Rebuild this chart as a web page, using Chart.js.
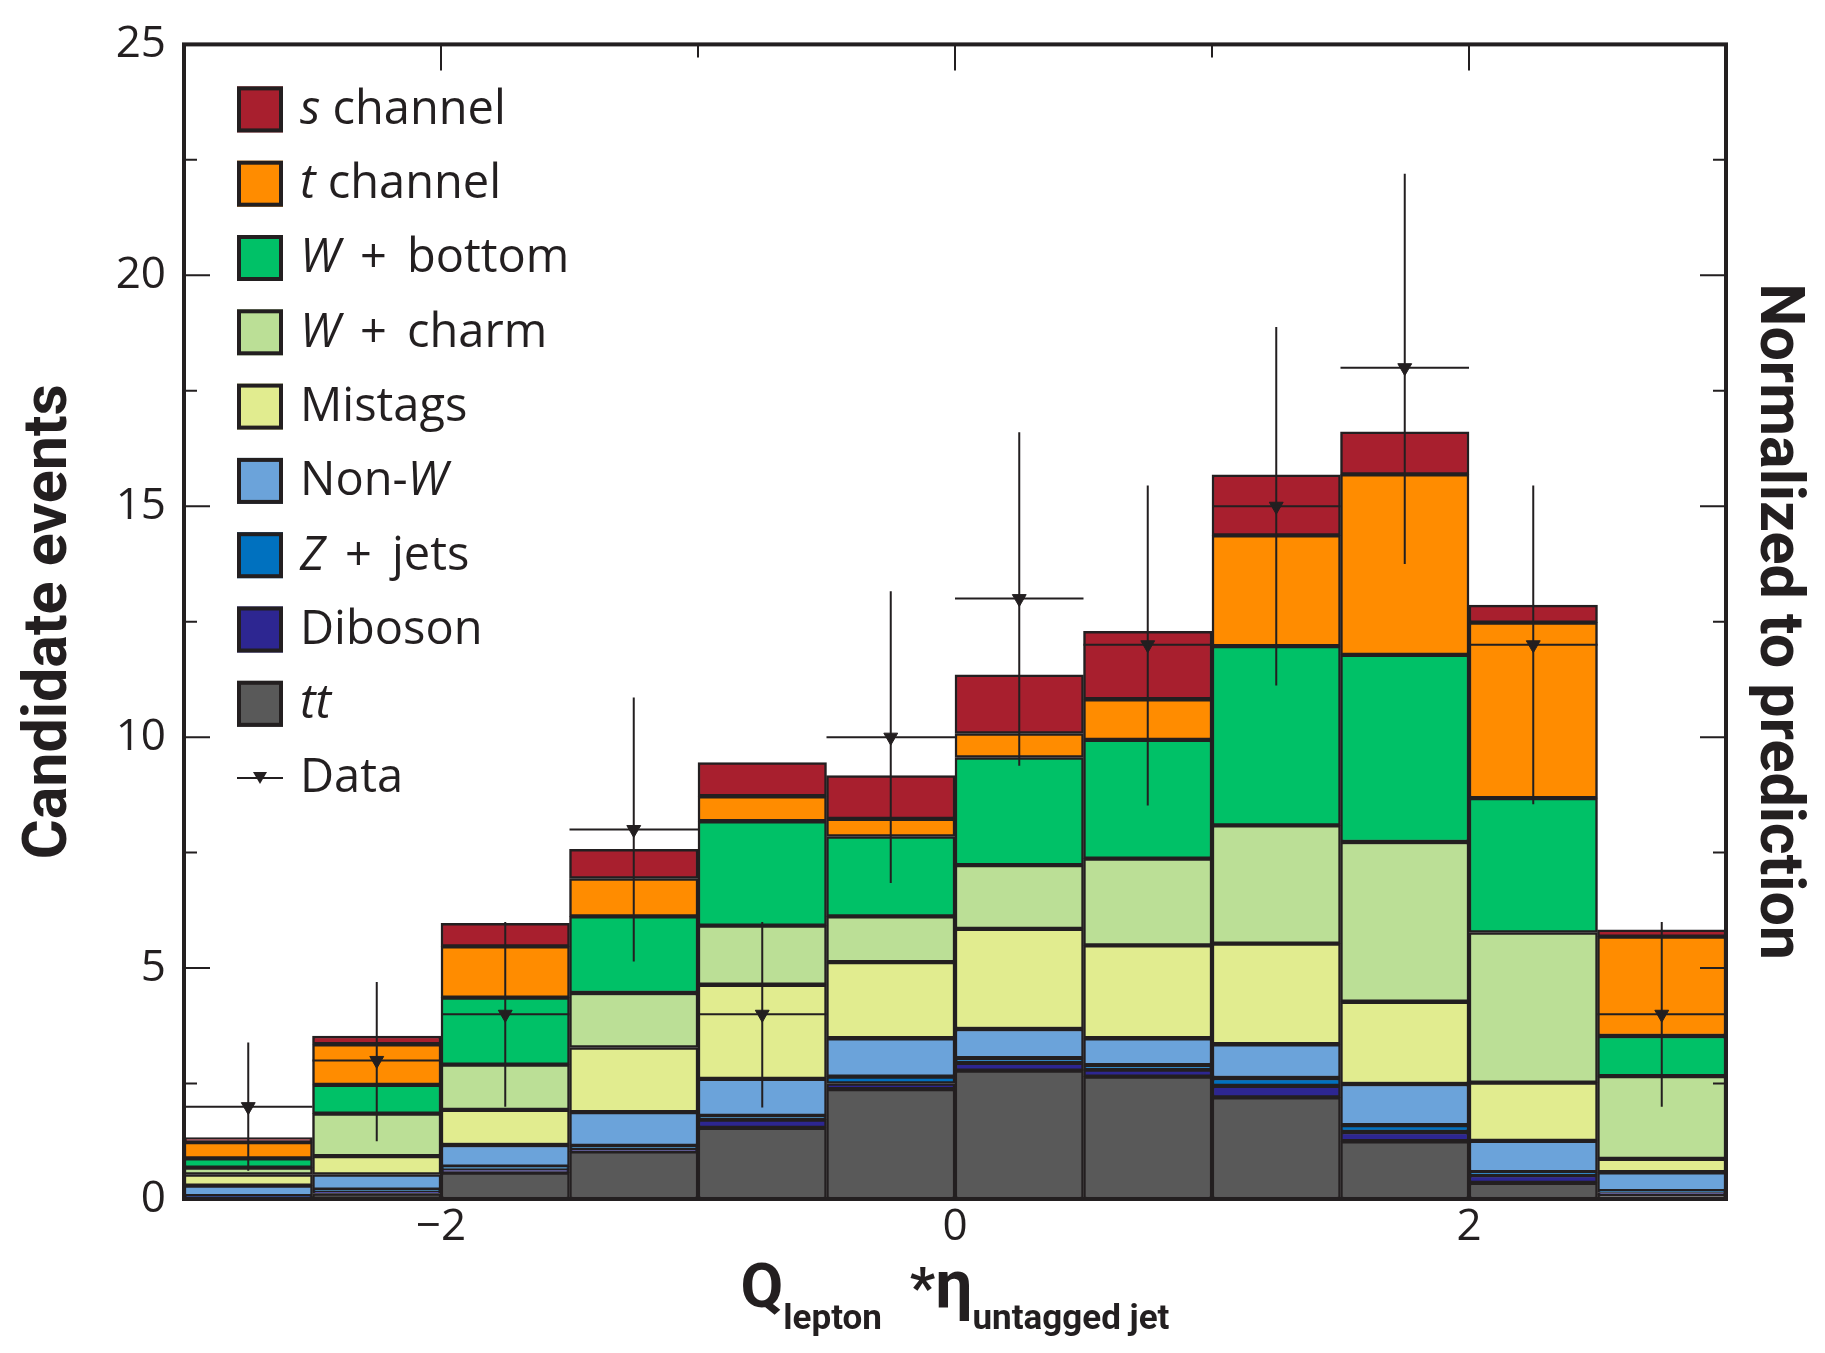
<!DOCTYPE html>
<html>
<head>
<meta charset="utf-8">
<script src="https://cdn.jsdelivr.net/npm/chart.js@4.4.0/dist/chart.umd.min.js"></script>
<style>
  html, body { margin: 0; padding: 0; background: #ffffff; }
  canvas { display: block; }
</style>
</head>
<body>
<canvas id="chart_Q" width="1825" height="1353"></canvas>
<script>
/************************************************************
    DATA  (12 bins of Q_lepton * eta_untagged jet, width 0.5)
*************************************************************/
var binLabels  = ['-2.75', '-2.25', '-1.75', '-1.25', '-0.75', '-0.25', '0.25', '0.75', '1.25', '1.75', '2.25', '2.75'];
var binCenters = [-2.75, -2.25, -1.75, -1.25, -0.75, -0.25, 0.25, 0.75, 1.25, 1.75, 2.25, 2.75];

// stacked predictions, bottom to top
var ttbar    = [0.04, 0.12, 0.57, 1.03, 1.54, 2.38, 2.78, 2.65, 2.20, 1.25, 0.35, 0.10];
var diboson  = [0.01, 0.05, 0.08, 0.05, 0.18, 0.12, 0.17, 0.15, 0.25, 0.20, 0.17, 0.04];
var zJets    = [0.01, 0.03, 0.05, 0.07, 0.08, 0.15, 0.10, 0.10, 0.17, 0.15, 0.06, 0.03];
var nonW     = [0.23, 0.33, 0.47, 0.73, 0.80, 0.83, 0.63, 0.58, 0.73, 0.89, 0.68, 0.41];
var mistags  = [0.24, 0.40, 0.76, 1.40, 2.04, 1.65, 2.17, 2.01, 2.18, 1.78, 1.26, 0.29];
var wCharm   = [0.15, 0.92, 0.98, 1.18, 1.28, 0.99, 1.38, 1.88, 2.56, 3.46, 3.25, 1.79];
var wBottom  = [0.20, 0.62, 1.45, 1.66, 2.26, 1.73, 2.33, 2.57, 3.88, 4.05, 2.91, 0.87];
var tChannel = [0.35, 0.88, 1.11, 0.82, 0.54, 0.38, 0.52, 0.88, 2.40, 3.91, 3.80, 2.15];
var sChannel = [0.10, 0.18, 0.50, 0.63, 0.73, 0.94, 1.27, 1.47, 1.31, 0.92, 0.38, 0.15];

// observed data with error bar ends
var dataCounts = [2, 3, 4, 8, 4, 10, 13, 12, 15, 18, 12, 4];
var dataHi     = [3.39, 4.70, 6.00, 10.86, 6.00, 13.16, 16.60, 15.45, 18.88, 22.20, 15.45, 6.00];
var dataLo     = [0.61, 1.25, 2.00, 5.14, 1.98, 6.84, 9.38, 8.52, 11.12, 13.75, 8.55, 2.00];

// axis ticks
var xTickLabels = [-2, 0, 2];
var xTickMarks  = [-2, -1, 0, 1, 2];
var yTickLabels = [0, 5, 10, 15, 20, 25];
var yTickMarks  = [2.5, 5, 7.5, 10, 12.5, 15, 17.5, 20, 22.5];

var ink = '#231F20';

/* ------------------
    legend entries (text runs: [text, italic])
-------------------*/
var legendRows = [
  { name: 's channel',  runs: [['s', true], [' channel', false]] },
  { name: 't channel',  runs: [['t', true], [' channel', false]] },
  { name: 'W + bottom', runs: [['W', true], ['\u2009 + \u2009bottom', false]] },
  { name: 'W + charm',  runs: [['W', true], ['\u2009 + \u2009charm', false]] },
  { name: 'Mistags',    runs: [['Mistags', false]] },
  { name: 'Non-W',      runs: [['Non-', false], ['W', true]] },
  { name: 'Z + jets',   runs: [['Z', true], ['\u2009 + \u2009jets', false]] },
  { name: 'Diboson',    runs: [['Diboson', false]] },
  { name: 'tt',         runs: [['tt', true]] },
  { name: 'Data',       runs: [['Data', false]] }
];

function barSet(label, values, colour) {
  return {
    type: 'bar',
    label: label,
    data: values,
    backgroundColor: colour,
    borderColor: ink,
    borderWidth: 2.5,
    borderSkipped: false,
    grouped: false,
    barPercentage: 1,
    categoryPercentage: 1,
    xAxisID: 'x',
    yAxisID: 'y'
  };
}

/************************************************************
    Plugins: frame + inward ticks, error bars, legend, x title
*************************************************************/
var frameAndTicks = {
  id: 'frameAndTicks',
  afterDraw: function (chart) {
    var ctx = chart.ctx, a = chart.chartArea;
    var xs = chart.scales.xv, ys = chart.scales.y;
    ctx.save();
    ctx.strokeStyle = ink;
    ctx.lineWidth = 2;
    ctx.beginPath();
    xTickMarks.forEach(function (v) {
      var px = xs.getPixelForValue(v);
      var len = (v % 2 === 0) ? 26 : 13;
      ctx.moveTo(px, a.top); ctx.lineTo(px, a.top + len);
      ctx.moveTo(px, a.bottom); ctx.lineTo(px, a.bottom - len);
    });
    yTickMarks.forEach(function (v) {
      var py = ys.getPixelForValue(v);
      var len = (v % 5 === 0) ? 26 : 13;
      ctx.moveTo(a.left, py); ctx.lineTo(a.left + len, py);
      ctx.moveTo(a.right, py); ctx.lineTo(a.right - len, py);
    });
    ctx.stroke();
    ctx.lineWidth = 4;
    ctx.strokeRect(a.left, a.top, a.right - a.left, a.bottom - a.top);
    ctx.restore();
  }
};

var errorBars = {
  id: 'errorBars',
  afterDatasetsDraw: function (chart) {
    var ctx = chart.ctx;
    var xs = chart.scales.xv, ys = chart.scales.y;
    ctx.save();
    ctx.strokeStyle = ink;
    ctx.lineWidth = 2;
    ctx.beginPath();
    for (var i = 0; i < dataCounts.length; i++) {
      var cx = xs.getPixelForValue(binCenters[i]);
      var cy = ys.getPixelForValue(dataCounts[i]);
      ctx.moveTo(cx, ys.getPixelForValue(dataHi[i]));
      ctx.lineTo(cx, ys.getPixelForValue(dataLo[i]));
      ctx.moveTo(xs.getPixelForValue(binCenters[i] - 0.25), cy);
      ctx.lineTo(xs.getPixelForValue(binCenters[i] + 0.25), cy);
    }
    ctx.stroke();
    ctx.restore();
  }
};

function drawRuns(ctx, runs, x, y, size) {
  runs.forEach(function (r) {
    ctx.font = (r[1] ? 'italic ' : '') + size + 'px "Open Sans"';
    ctx.fillText(r[0], x, y);
    x += ctx.measureText(r[0]).width;
  });
}

var boxLegend = {
  id: 'boxLegend',
  afterDraw: function (chart) {
    var ctx = chart.ctx, a = chart.chartArea;
    var bars = chart.data.datasets.filter(function (d) { return d.type === 'bar'; }).slice().reverse();
    var boxX = a.left + 53, box = 46, rowH = 74.3, y0 = a.top + 65;
    ctx.save();
    ctx.textBaseline = 'middle';
    ctx.fillStyle = ink;
    legendRows.forEach(function (row, i) {
      var cy = y0 + i * rowH;
      if (i < bars.length) {
        ctx.fillStyle = bars[i].backgroundColor;
        ctx.fillRect(boxX, cy - box / 2, box, box);
        ctx.lineWidth = 4;
        ctx.strokeStyle = ink;
        ctx.strokeRect(boxX + 2, cy - box / 2 + 2, box - 4, box - 4);
      } else {
        ctx.lineWidth = 2;
        ctx.strokeStyle = ink;
        ctx.beginPath();
        ctx.moveTo(boxX, cy); ctx.lineTo(boxX + box, cy);
        ctx.stroke();
        ctx.fillStyle = ink;
        ctx.beginPath();
        ctx.moveTo(boxX + box / 2 - 7, cy - 6);
        ctx.lineTo(boxX + box / 2 + 7, cy - 6);
        ctx.lineTo(boxX + box / 2, cy + 6);
        ctx.closePath();
        ctx.fill();
      }
      ctx.fillStyle = ink;
      drawRuns(ctx, row.runs, boxX + box + 17, cy + 1, 47);
    });
    ctx.restore();
  }
};

var xTitle = {
  id: 'xTitle',
  afterDraw: function (chart) {
    var ctx = chart.ctx, a = chart.chartArea;
    var parts = [
      ['Q', 62, 0], ['lepton', 35, 22], ['  *', 56, 0], ['\u03b7', 66, 0], ['untagged jet', 35, 22]
    ];
    var base = a.bottom + 108;
    ctx.save();
    ctx.fillStyle = ink;
    ctx.textBaseline = 'alphabetic';
    var total = 0;
    parts.forEach(function (p) {
      ctx.font = 'bold ' + p[1] + 'px Roboto';
      total += ctx.measureText(p[0]).width;
    });
    var x = (a.left + a.right) / 2 - total / 2;
    parts.forEach(function (p) {
      ctx.font = 'bold ' + p[1] + 'px Roboto';
      ctx.fillText(p[0], x, base + p[2]);
      x += ctx.measureText(p[0]).width;
    });
    ctx.restore();
  }
};

/************************************************************
    Chart
*************************************************************/
var chart_Q = new Chart(document.getElementById('chart_Q'), {
  type: 'bar',
  data: {
    labels: binLabels,
    datasets: [
      barSet('tt', ttbar, '#595959'),
      barSet('Diboson', diboson, '#2D2691'),
      barSet('Z + jets', zJets, '#0071BF'),
      barSet('Non-W', nonW, '#6BA3DA'),
      barSet('Mistags', mistags, '#E1EC8F'),
      barSet('W + charm', wCharm, '#BBDF96'),
      barSet('W + bottom', wBottom, '#00C167'),
      barSet('t channel', tChannel, '#FF8C00'),
      barSet('s channel', sChannel, '#A81F2E'),
      {
        type: 'scatter',
        label: 'Data',
        data: binCenters.map(function (x, i) { return { x: x, y: dataCounts[i] }; }),
        xAxisID: 'xv',
        yAxisID: 'yr',
        order: -1,
        pointStyle: 'triangle',
        rotation: 180,
        radius: 8,
        backgroundColor: ink,
        borderColor: ink,
        borderWidth: 1
      }
    ]
  },
  options: {
    responsive: false,
    animation: false,
    devicePixelRatio: 1,
    layout: { padding: { top: 38, left: 0, right: 0, bottom: 0 } },
    plugins: {
      legend: { display: false },
      tooltip: { enabled: false },
      title: { display: false }
    },
    scales: {
      x: {
        type: 'category',
        stacked: true,
        display: false,
        offset: true
      },
      xv: {
        type: 'linear',
        position: 'bottom',
        min: -3,
        max: 3,
        offset: false,
        grid: { display: false, drawTicks: false, offset: false },
        border: { display: false },
        afterBuildTicks: function (s) { s.ticks = xTickLabels.map(function (v) { return { value: v }; }); },
        afterFit: function (s) { s.height = 154; },
        ticks: {
          padding: 2,
          color: ink,
          font: { family: 'Open Sans', size: 44 },
          callback: function (v) { return String(v).replace('-', '\u2212'); }
        }
      },
      y: {
        type: 'linear',
        position: 'left',
        stacked: true,
        min: 0,
        max: 25,
        grid: { display: false, drawTicks: false },
        border: { display: false },
        afterBuildTicks: function (s) { s.ticks = yTickLabels.map(function (v) { return { value: v }; }); },
        afterFit: function (s) { s.width = 184; },
        ticks: {
          padding: 18,
          color: ink,
          font: { family: 'Open Sans', size: 44 }
        },
        title: {
          display: true,
          text: 'Candidate events',
          color: ink,
          padding: { top: 14, bottom: 0 },
          font: { family: 'Roboto', size: 61, weight: 'bold' }
        }
      },
      yr: {
        type: 'linear',
        position: 'right',
        min: 0,
        max: 25,
        grid: { display: false, drawTicks: false },
        border: { display: false },
        ticks: { display: false },
        afterFit: function (s) { s.width = 99; },
        title: {
          display: true,
          text: 'Normalized to prediction',
          color: ink,
          padding: { top: 12, bottom: 0 },
          font: { family: 'Roboto', size: 61, weight: 'bold' }
        }
      }
    }
  },
  plugins: [frameAndTicks, errorBars, boxLegend, xTitle]
});
</script>
</body>
</html>
